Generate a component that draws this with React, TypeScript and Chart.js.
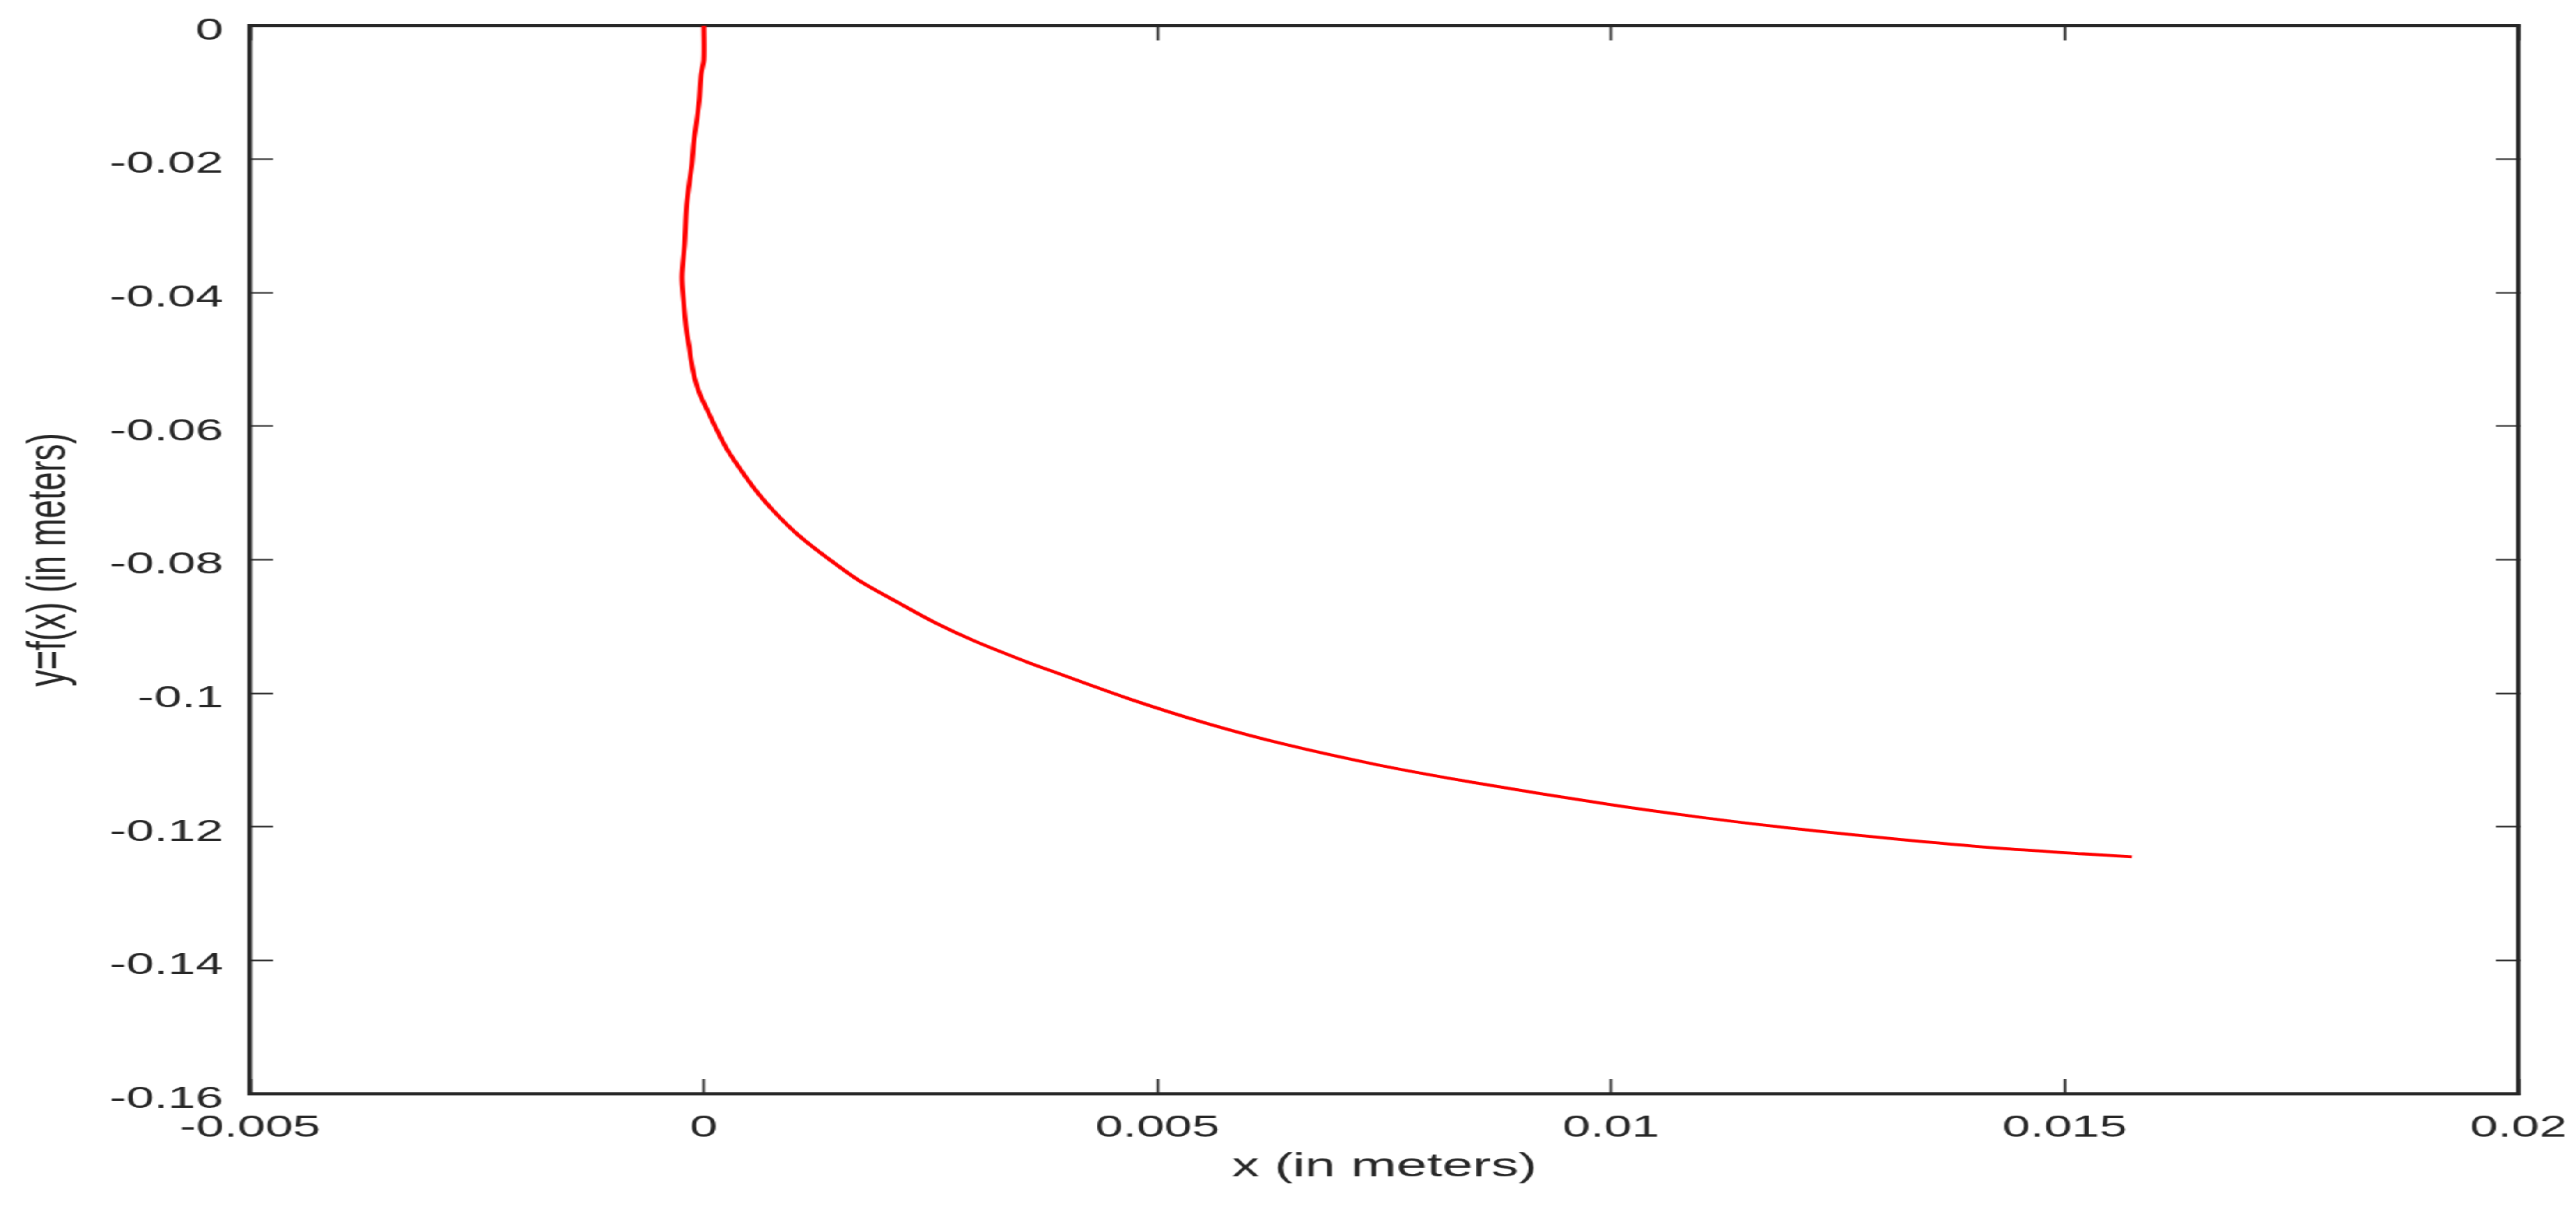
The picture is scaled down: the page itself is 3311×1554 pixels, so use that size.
import React, { useEffect, useRef } from 'react';
import { Chart, registerables } from 'chart.js';

Chart.register(...registerables);

// ---- data ----
const curveX = [
  0, 0, -0.00003, -0.00005, -0.00008, -0.00011, -0.00013, -0.00016, -0.00019, -0.00021,
  -0.00024, -0.00022, -0.00019, -0.00016, -0.00014, -0.0001, -0.00004, 0.00004, 0.00012,
  0.00025, 0.00038, 0.00055, 0.00077, 0.00105, 0.00134, 0.00171, 0.00214, 0.00256,
  0.00299, 0.00356, 0.00382, 0.00468, 0.00554, 0.00639, 0.00742, 0.0085, 0.01, 0.011,
  0.01197, 0.01311, 0.01426, 0.0152, 0.01574,
];
const curveY = [
  0, -0.0051, -0.0074, -0.0113, -0.0145, -0.0175, -0.0206, -0.0237, -0.0271, -0.0326,
  -0.0376, -0.0416, -0.0457, -0.0481, -0.0501, -0.0528, -0.0553, -0.0576, -0.0599,
  -0.0633, -0.066, -0.0692, -0.0727, -0.0764, -0.0795, -0.0831, -0.0864, -0.0895,
  -0.0922, -0.0953, -0.0966, -0.1008, -0.1045, -0.1076, -0.1107, -0.1134, -0.1167, -0.1186,
  -0.1202, -0.1218, -0.1232, -0.12405, -0.1245,
];
const xTickValues = [-0.005, 0, 0.005, 0.01, 0.015, 0.02];
const xTickLabels = ['-0.005', '0', '0.005', '0.01', '0.015', '0.02'];
const yTickValues = [0, -0.02, -0.04, -0.06, -0.08, -0.1, -0.12, -0.14, -0.16];
const yTickLabels = ['0', '-0.02', '-0.04', '-0.06', '-0.08', '-0.1', '-0.12', '-0.14', '-0.16'];
const xAxisTitle = 'x (in meters)';
const yAxisTitle = 'y=f(x) (in meters)';

// ---- layout / style ----
const FULL_W = 3311;
const FULL_H = 1554;
const STRETCH = 1.64; // the reference is stretched horizontally
const W = Math.round(FULL_W / STRETCH);
const SX = FULL_W / W;
const INK = '#262626';
const FAMILY = '"Liberation Sans", Arial, Helvetica, sans-serif';
const tickFont = { family: FAMILY, size: 39 };
const titleFont = { family: FAMILY, size: 43 };

const labelFor = (values: number[], labels: string[]) => (v: any) => {
  const i = values.findIndex((t) => Math.abs(t - Number(v)) < 1e-9);
  return i >= 0 ? labels[i] : '';
};
const setTicks = (values: number[]) => (scale: any) => {
  scale.ticks = values.map((v) => ({ value: v }));
};
const fixSize = (prop: 'width' | 'height', size: number) => (s: any) => {
  s[prop] = size;
  s.paddingTop = 0;
  s.paddingBottom = 0;
  s.paddingLeft = 0;
  s.paddingRight = 0;
};

export default function App() {
  const ref = useRef<HTMLCanvasElement | null>(null);

  useEffect(() => {
    document.body.style.margin = '0';
    document.body.style.overflow = 'hidden';
    const canvas = ref.current;
    if (!canvas) return;

    const xGrid = { display: true, drawOnChartArea: false, drawTicks: true, tickLength: -19, tickWidth: 2, tickColor: INK };
    const yGrid = { display: true, drawOnChartArea: false, drawTicks: true, tickLength: -18, tickWidth: 2, tickColor: INK };

    const chart = new Chart(canvas, {
      type: 'scatter',
      data: {
        datasets: [
          {
            data: curveX.map((x, i) => ({ x, y: curveY[i] })),
            showLine: true,
            borderColor: '#ff0000',
            backgroundColor: '#ff0000',
            borderWidth: 3.8,
            pointRadius: 0,
            tension: 0.3,
            xAxisID: 'x',
            yAxisID: 'y',
          },
        ],
      },
      options: {
        responsive: false,
        animation: false,
        events: [],
        layout: { padding: { top: 33, right: 45, bottom: 0, left: 0 } },
        plugins: { legend: { display: false }, tooltip: { enabled: false } },
        scales: {
          x: {
            type: 'linear',
            position: 'bottom',
            min: -0.005,
            max: 0.02,
            afterBuildTicks: setTicks(xTickValues),
            afterFit: fixSize('height', 148),
            ticks: {
              autoSkip: false, maxRotation: 0, minRotation: 0, padding: 40,
              color: INK, font: tickFont, callback: labelFor(xTickValues, xTickLabels),
            },
            grid: xGrid,
            border: { display: true, color: INK, width: 4 },
            title: { display: true, text: xAxisTitle, color: INK, font: titleFont, padding: { top: 0, bottom: 28 } },
          },
          x2: {
            type: 'linear',
            position: 'top',
            min: -0.005,
            max: 0.02,
            afterBuildTicks: setTicks(xTickValues),
            afterFit: fixSize('height', 0),
            ticks: { display: false },
            grid: xGrid,
            border: { display: true, color: INK, width: 4 },
          },
          y: {
            type: 'linear',
            position: 'left',
            min: -0.16,
            max: 0,
            afterBuildTicks: setTicks(yTickValues),
            afterFit: fixSize('width', Math.round(321 / SX)),
            ticks: {
              autoSkip: false, padding: 39, labelOffset: 7,
              color: INK, font: tickFont, callback: labelFor(yTickValues, yTickLabels),
            },
            grid: yGrid,
            border: { display: true, color: INK, width: 3.5 },
            title: { display: true, text: yAxisTitle, color: INK, font: titleFont, padding: { top: 13, bottom: 0 } },
          },
          y2: {
            type: 'linear',
            position: 'right',
            min: -0.16,
            max: 0,
            afterBuildTicks: setTicks(yTickValues),
            afterFit: fixSize('width', 0),
            ticks: { display: false },
            grid: yGrid,
            border: { display: true, color: INK, width: 3.5 },
          },
        },
      } as any,
    });
    return () => chart.destroy();
  }, []);

  return (
    <div
      style={{
        position: 'absolute',
        left: 0,
        top: 0,
        width: W,
        height: FULL_H,
        transform: `scaleX(${SX})`,
        transformOrigin: '0 0',
        background: '#fff',
      }}
    >
      <canvas ref={ref} width={W} height={FULL_H} />
    </div>
  );
}
